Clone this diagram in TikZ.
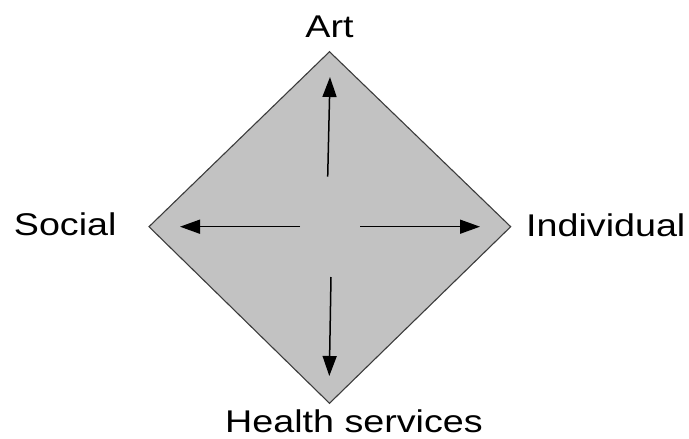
\documentclass[tikz,border=0pt]{standalone}
\usepackage{fontspec}
\setmainfont{Liberation Sans}[FakeStretch=1.2]
\usetikzlibrary{arrows.meta,positioning}

\definecolor{diamondgray}{RGB}{194,194,194}
\definecolor{edgegray}{RGB}{60,60,60}

\begin{document}
\begin{tikzpicture}[x=1pt, y=-1pt,
    lbl/.style={font=\fontsize{31.4}{36}\selectfont, inner sep=0pt},
    arr/.style={-{Triangle[length=20pt,width=14pt]}, line width=1.5pt}
]
\useasboundingbox (0,0) rectangle (689,439);

% corners of the square
\coordinate (top) at (329.5,51.7);
\coordinate (left) at (149,226.7);
\coordinate (right) at (510.7,226.7);
\coordinate (bottom) at (329.5,403.3);
\draw[fill=diamondgray, draw=edgegray, line width=1.1pt] (top) -- (right) -- (bottom) -- (left) -- cycle;

% arrow ends
\coordinate (upS) at (327.7,176.7);
\coordinate (upT) at (330,77);
\coordinate (dnS) at (331,277);
\coordinate (dnT) at (329.3,376);
\coordinate (lfS) at (300,226.7);
\coordinate (lfT) at (180,226.7);
\coordinate (rtS) at (360,226.7);
\coordinate (rtT) at (480,226.7);

\draw[arr] (upS) -- (upT);
\draw[arr] (dnS) -- (dnT);
\draw[arr] (lfS) -- (lfT);
\draw[arr] (rtS) -- (rtT);

\node[lbl, anchor=base] (art) at (329.5,37) {Art};
\node[lbl, anchor=base east] (social) at (116.7,235) {Social};
\node[lbl, anchor=base west] (indiv) at (526,236) {Individual};
\node[lbl, anchor=base west] (health) at (225,432) {Health services};
\end{tikzpicture}
\end{document}
